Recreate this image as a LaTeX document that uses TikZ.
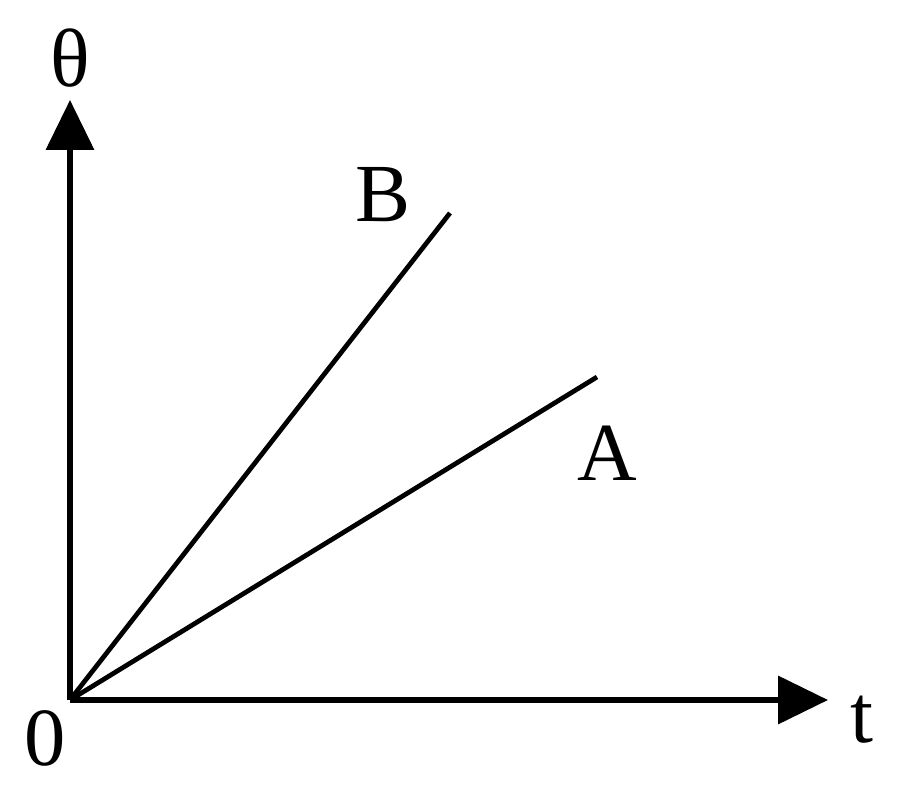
\documentclass[tikz,border=0pt]{standalone}
\usepackage{fontspec}
\setmainfont{Liberation Serif}
\usetikzlibrary{arrows.meta}
\begin{document}
\begin{tikzpicture}[x=0.02cm,y=-0.02cm,
  ax/.style={line width=3pt,-{Triangle[length=1cm,width=0.95cm]}},
  ln/.style={line width=2.7pt},
  lab/.style={font=\fontsize{47}{47}\selectfont,inner sep=0pt}]
\useasboundingbox (0,0) rectangle (900,790);
\coordinate (O) at (70,700);
\coordinate (Y) at (70,100);
\coordinate (X) at (828,700);
\coordinate (Bend) at (450,213);
\coordinate (Aend) at (597,377);
\draw[ax] (O) -- (Y);
\draw[ax] (O) -- (X);
\draw[ln] (O) -- (Bend);
\draw[ln] (O) -- (Aend);
\node[lab] (th) at (70,58) {θ};
\node[lab] (b) at (383,195) {B};
\node[lab] (a) at (607,453) {A};
\node[lab] (z) at (45,738) {0};
\node[lab] (t) at (862,720) {t};
\end{tikzpicture}
\end{document}
